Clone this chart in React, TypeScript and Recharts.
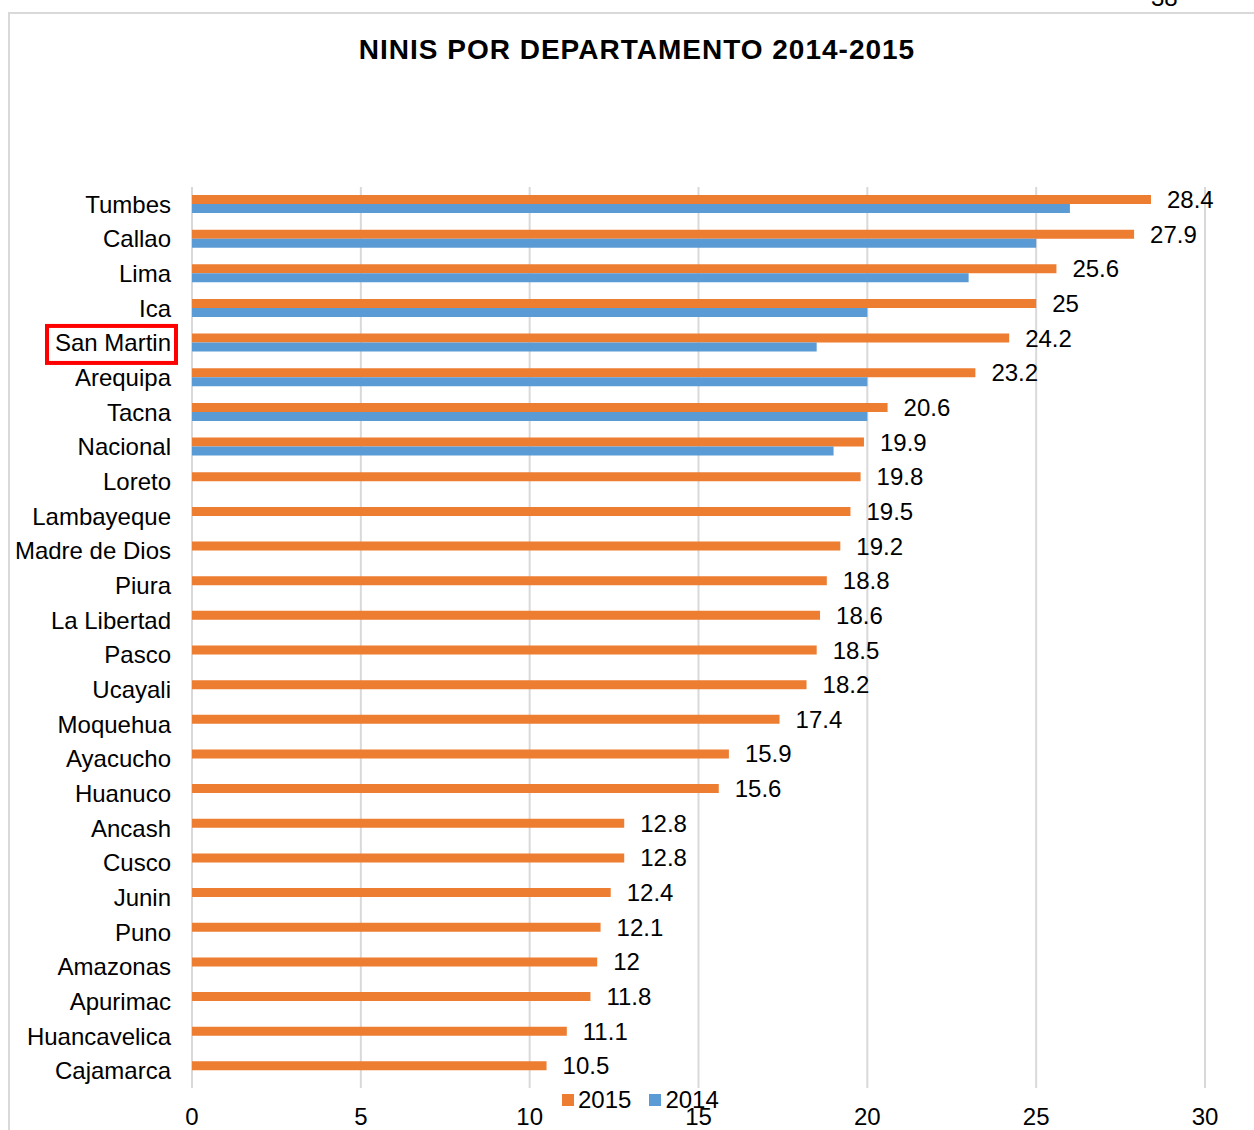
import { BarChart, Bar, XAxis, YAxis, CartesianGrid, Legend, LabelList } from 'recharts';

const departments = [
  'Tumbes', 'Callao', 'Lima', 'Ica', 'San Martin', 'Arequipa', 'Tacna', 'Nacional',
  'Loreto', 'Lambayeque', 'Madre de Dios', 'Piura', 'La Libertad', 'Pasco', 'Ucayali',
  'Moquehua', 'Ayacucho', 'Huanuco', 'Ancash', 'Cusco', 'Junin', 'Puno', 'Amazonas',
  'Apurimac', 'Huancavelica', 'Cajamarca',
];

const values2015 = [
  28.4, 27.9, 25.6, 25, 24.2, 23.2, 20.6, 19.9, 19.8, 19.5, 19.2, 18.8, 18.6, 18.5,
  18.2, 17.4, 15.9, 15.6, 12.8, 12.8, 12.4, 12.1, 12, 11.8, 11.1, 10.5,
];

// only the first eight rows have a 2014 value
const values2014 = [26, 25, 23, 20, 18.5, 20, 20, 19];

const xTicks = [0, 5, 10, 15, 20, 25, 30];

const ORANGE = '#ED7D31';
const BLUE = '#5B9BD5';
const GRID = '#D9D9D9';
const FONT = 'Arial, "Liberation Sans", sans-serif';

const data = departments.map((name, i) => ({
  name,
  '2015': values2015[i],
  '2014': i < values2014.length ? values2014[i] : null,
}));

// category tick, with the red box drawn round the highlighted one
function DeptTick(props: any) {
  const { x, y, payload } = props;
  const hi = payload.value === 'San Martin';
  return (
    <g>
      {hi && (
        <rect x={x - 124} y={y - 17} width={129} height={37} fill="none" stroke="#FF0000" strokeWidth={4} />
      )}
      <text x={x} y={y} dy={8.5} textAnchor="end" fontSize={24} fontFamily={FONT} fill="#000">
        {payload.value}
      </text>
    </g>
  );
}

function LegendBox() {
  const items = [
    { label: '2015', color: ORANGE },
    { label: '2014', color: BLUE },
  ];
  return (
    <div style={{ display: 'flex', gap: '18px', fontFamily: FONT, fontSize: 24, color: '#000', lineHeight: '26px' }}>
      {items.map(d => (
        <div key={d.label} style={{ display: 'flex', alignItems: 'center', gap: '4px' }}>
          <div style={{ width: 12, height: 12, background: d.color }} />
          <span>{d.label}</span>
        </div>
      ))}
    </div>
  );
}

export default function App() {
  return (
    <div style={{ position: 'absolute', left: 0, top: 0, width: 1254, height: 1130, overflow: 'hidden', background: '#fff', fontFamily: FONT }}>
      <div style={{ position: 'absolute', left: 8, top: 12, width: 1280, height: 1200, border: `2px solid ${GRID}` }} />
      <div style={{ position: 'absolute', left: 1151, top: -16, fontSize: 24, color: '#000' }}>38</div>
      <div style={{ position: 'absolute', left: 0, width: 1274, top: 34, textAlign: 'center', fontWeight: 'bold', fontSize: 28, letterSpacing: 1, color: '#000' }}>
        NINIS POR DEPARTAMENTO 2014-2015
      </div>
      <div style={{ position: 'absolute', left: 0, top: 0 }}>
        <BarChart
          width={1254}
          height={1130}
          data={data}
          layout="vertical"
          margin={{ top: 187, right: 49, bottom: 12, left: 10 }}
          barSize={9}
          barGap={0}
        >
          <CartesianGrid horizontal={false} stroke={GRID} strokeWidth={2} />
          <XAxis
            type="number"
            domain={[0, 30]}
            ticks={xTicks}
            axisLine={false}
            tickLine={false}
            height={30}
            tickMargin={14}
            tick={{ fontSize: 24, fontFamily: FONT, fill: '#000' }}
          />
          <YAxis
            type="category"
            dataKey="name"
            width={182}
            axisLine={false}
            tickLine={false}
            tickMargin={15}
            interval={0}
            tick={<DeptTick />}
          />
          <Legend
            layout="horizontal"
            verticalAlign="middle"
            content={<LegendBox />}
            wrapperStyle={{ top: 1087, left: 562, width: 'auto' }}
          />
          <Bar dataKey="2015" fill={ORANGE} isAnimationActive={false}>
            <LabelList dataKey="2015" position="right" offset={16} fontSize={24} fontFamily={FONT} fill="#000" />
          </Bar>
          <Bar dataKey="2014" fill={BLUE} isAnimationActive={false} />
        </BarChart>
      </div>
    </div>
  );
}
